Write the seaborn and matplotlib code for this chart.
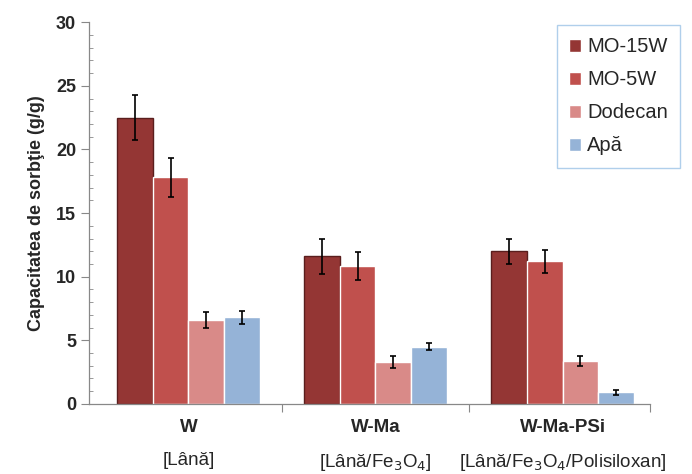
import numpy as np
import pandas as pd
import seaborn as sns
import matplotlib.pyplot as plt
from matplotlib.ticker import MultipleLocator, FixedLocator
import matplotlib.transforms as mtransforms

# sample groups and series
groups = ["W", "W-Ma", "W-Ma-PSi"]
subtitles = ["[Lână]", "[Lână/Fe$_3$O$_4$]", "[Lână/Fe$_3$O$_4$/Polisiloxan]"]
series = ["MO-15W", "MO-5W", "Dodecan", "Apă"]

mo15w = [22.5, 11.6, 12.0]
mo5w = [17.8, 10.8, 11.2]
dodecan = [6.6, 3.3, 3.4]
apa = [6.8, 4.5, 0.9]

mo15w_err = [1.75, 1.4, 1.0]
mo5w_err = [1.55, 1.1, 0.9]
dodecan_err = [0.6, 0.5, 0.4]
apa_err = [0.5, 0.3, 0.2]

colors = ["#943634", "#C0504D", "#D98A88", "#95B3D7"]

vals = [mo15w, mo5w, dodecan, apa]
errs = [mo15w_err, mo5w_err, dodecan_err, apa_err]
rows = []
for s, v, e in zip(series, vals, errs):
    for g, vv, ee in zip(groups, v, e):
        rows.append({"grup": g, "serie": s, "val": vv, "err": ee})
df = pd.DataFrame(rows)

sns.set_style("white")
plt.rcParams['font.family'] = ['Liberation Sans', 'DejaVu Sans']

fig, ax = plt.subplots(figsize=(6.92, 4.74), dpi=100)
fig.subplots_adjust(left=0.129, right=0.94, top=0.953, bottom=0.148)

sns.barplot(data=df, x="grup", y="val", hue="serie", hue_order=series,
            order=groups, palette=colors, errorbar=None, width=0.76,
            saturation=1, ax=ax)

# error bars at the bar centres
for i, s in enumerate(series):
    cont = ax.containers[i]
    xs = [p.get_x() + p.get_width() / 2 for p in cont]
    ax.errorbar(xs, vals[i], yerr=errs[i], fmt="none", ecolor="black",
                elinewidth=1.2, capsize=2.5, capthick=1.2)

# darker edges on the darkest series
for p in ax.containers[0]:
    p.set_edgecolor("#5a1e1d")
    p.set_linewidth(1.0)

ax.set_ylim(0, 30)
ax.set_xlim(-0.53, 2.47)
ax.yaxis.set_major_locator(MultipleLocator(5))
ax.yaxis.set_minor_locator(MultipleLocator(1))
ax.tick_params(axis="y", which="major", length=6, width=0.8, color="#888888",
               labelsize=13, direction="out", left=True)
ax.tick_params(axis="y", which="minor", length=3, width=0.6, color="#888888",
               direction="in", left=True)
for t in ax.get_yticklabels():
    t.set_fontweight("bold")

# category separators instead of centre ticks
ax.set_xticks([0, 1, 2])
ax.set_xticklabels([])
ax.tick_params(axis="x", which="major", length=0)
ax.xaxis.set_minor_locator(FixedLocator([0.5, 1.5, 2.47]))
ax.tick_params(axis="x", which="minor", length=6, width=0.8, color="#888888",
               direction="out", bottom=True)

trans = mtransforms.blended_transform_factory(ax.transData, ax.transAxes)
for i, (g, st) in enumerate(zip(groups, subtitles)):
    ax.text(i, -0.04, g, transform=trans, ha="center", va="top",
            fontsize=13.5, fontweight="bold")
    ax.text(i, -0.127, st, transform=trans, ha="center", va="top",
            fontsize=13.5)

for side in ["top", "right"]:
    ax.spines[side].set_visible(False)
for side in ["left", "bottom"]:
    ax.spines[side].set_color("#888888")
    ax.spines[side].set_linewidth(0.9)

ax.set_xlabel("")
ax.set_ylabel("Capacitatea de sorbţie (g/g)", fontsize=13, fontweight="bold",
              labelpad=8)

leg = ax.legend(loc="upper right", bbox_to_anchor=(0.983, 0.947),
                bbox_transform=fig.transFigure, borderaxespad=0,
                fontsize=14.5, frameon=True, fancybox=False,
                handlelength=0.6, handleheight=0.6, handletextpad=0.3,
                labelspacing=0.7, borderpad=0.6)
leg.get_frame().set_edgecolor("#9DC3E6")
leg.get_frame().set_linewidth(1.0)

plt.savefig("out.png", dpi=100)
